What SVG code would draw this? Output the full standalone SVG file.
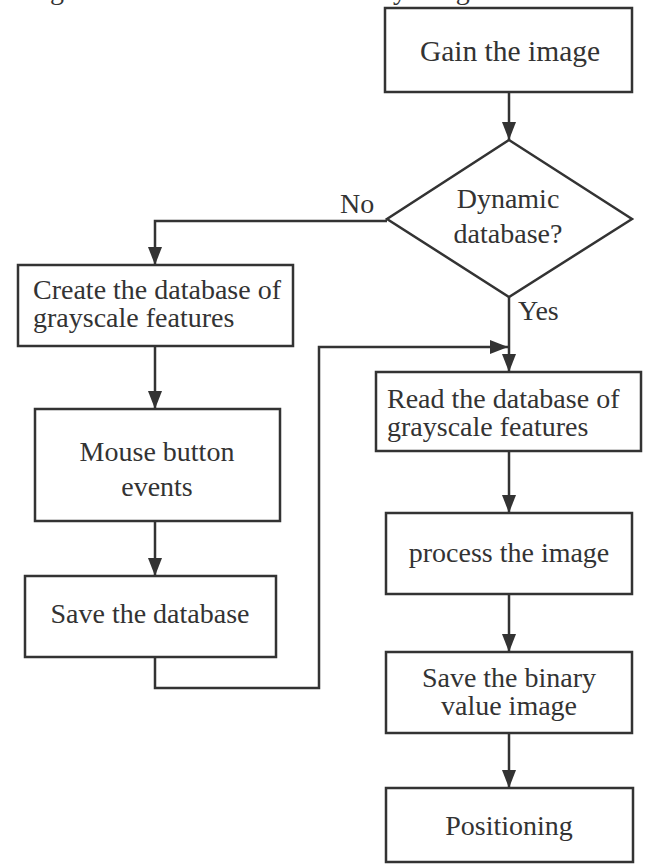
<svg xmlns="http://www.w3.org/2000/svg" width="647" height="866" viewBox="0 0 647 866">
<style>
.box{fill:#fff;stroke:#333;stroke-width:2.5}
.ln{fill:none;stroke:#333;stroke-width:2.5}
text{font-family:"Liberation Serif","Times New Roman",serif;font-size:28px;fill:#333}
.c{text-anchor:middle}
.big{font-size:29.5px}
</style>
<defs>
<marker id="ah" viewBox="0 0 18 14" refX="18" refY="7" markerWidth="18" markerHeight="14" markerUnits="userSpaceOnUse" orient="auto">
<path d="M0,0 L18,7 L0,14 Z" fill="#333"/>
</marker>
</defs>
<text x="8" y="-1">image will be converted into binary image</text>
<g id="connectors">
<line class="ln" x1="509" y1="92" x2="509" y2="140" marker-end="url(#ah)"/>
<polyline class="ln" points="387,221 155,221 155,265" marker-end="url(#ah)"/>
<line class="ln" x1="509" y1="297" x2="509" y2="372" marker-end="url(#ah)"/>
<line class="ln" x1="155" y1="346" x2="155" y2="409" marker-end="url(#ah)"/>
<line class="ln" x1="155" y1="521" x2="155" y2="576" marker-end="url(#ah)"/>
<polyline class="ln" points="155,657 155,688 319,688 319,347 508,347" marker-end="url(#ah)"/>
<line class="ln" x1="509" y1="451" x2="509" y2="513" marker-end="url(#ah)"/>
<line class="ln" x1="509" y1="594" x2="509" y2="652" marker-end="url(#ah)"/>
<line class="ln" x1="509" y1="733" x2="509" y2="788" marker-end="url(#ah)"/>
<text x="340" y="213">No</text>
<text x="518" y="320">Yes</text>
</g>
<g id="gain">
<rect class="box" x="385" y="8" width="247" height="84"/>
<text class="c big" x="510" y="61">Gain the image</text>
</g>
<g id="dynamic">
<polygon class="box" points="509,140 632,219 509,297 387,219"/>
<text class="c" x="508" y="208">Dynamic</text>
<text class="c" x="508" y="243">database?</text>
</g>
<g id="create">
<rect class="box" x="18" y="265" width="275" height="81"/>
<text x="33" y="299">Create the database of</text>
<text x="33" y="327">grayscale features</text>
</g>
<g id="mouse">
<rect class="box" x="35" y="409" width="245" height="112"/>
<text class="c" x="157" y="461">Mouse button</text>
<text class="c" x="157" y="496">events</text>
</g>
<g id="savedb">
<rect class="box" x="25" y="576" width="251" height="81"/>
<text class="c" x="150" y="623">Save the database</text>
</g>
<g id="read">
<rect class="box" x="376" y="372" width="265" height="79"/>
<text x="387" y="408">Read the database of</text>
<text x="387" y="436">grayscale features</text>
</g>
<g id="process">
<rect class="box" x="386" y="513" width="246" height="81"/>
<text class="c" x="509" y="562">process the image</text>
</g>
<g id="savebin">
<rect class="box" x="386" y="652" width="246" height="81"/>
<text class="c" x="509" y="687">Save the binary</text>
<text class="c" x="509" y="715">value image</text>
</g>
<g id="positioning">
<rect class="box" x="386" y="788" width="247" height="74"/>
<text class="c" x="509" y="835">Positioning</text>
</g>
</svg>
